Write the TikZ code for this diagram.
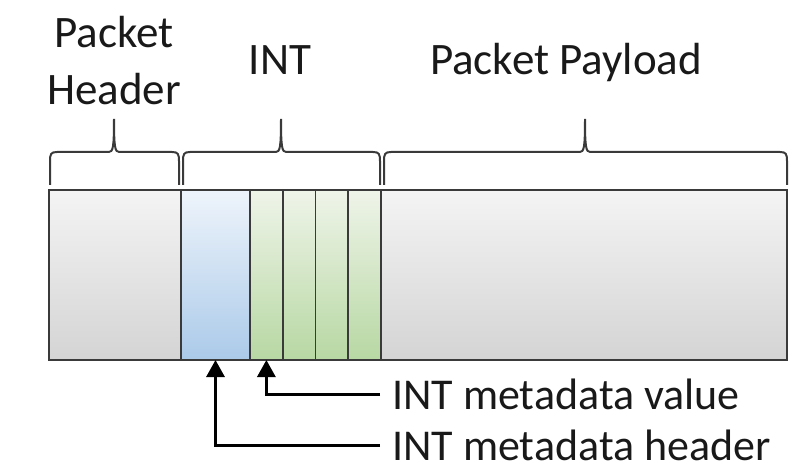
\documentclass[tikz,border=0pt]{standalone}
\usepackage{fontspec}
\setmainfont{Carlito}
\usepackage{tikz}
\usetikzlibrary{arrows.meta,positioning}
\definecolor{intline}{HTML}{3A3A3A}
\definecolor{pktgraytop}{HTML}{F4F4F4}
\definecolor{pktgraybot}{HTML}{D4D4D4}
\definecolor{intbluetop}{HTML}{EEF4FB}
\definecolor{intbluebot}{HTML}{ABCAE9}
\definecolor{intgreentop}{HTML}{EFF4E9}
\definecolor{intgreenbot}{HTML}{B7D8A3}

% curly brace over a field: left end, tip, right end
\newcommand{\fieldbrace}[3]{%
  \draw[bracepath] (#1,185) -- (#1,161) .. controls (#1,154) and (#1+1,152) .. (#1+7,152)
    -- (#2-5,152) .. controls (#2-1,152) and (#2,147) .. (#2,119)
    .. controls (#2,147) and (#2+1,152) .. (#2+5,152)
    -- (#3-7,152) .. controls (#3-1,152) and (#3,154) .. (#3,161) -- (#3,185);}

\begin{document}
\begin{tikzpicture}[
    x=1pt, y=-1pt,
    every node/.style={font=\fontsize{45}{57}\selectfont, text=black!90, inner ysep=2pt},
    field/.style={draw=intline, line width=1.6pt, minimum height=170pt, outer sep=0pt, inner sep=0pt, anchor=north west},
    grayfield/.style={field, top color=pktgraytop, bottom color=pktgraybot},
    bluefield/.style={field, top color=intbluetop, bottom color=intbluebot},
    greenfield/.style={field, top color=intgreentop, bottom color=intgreenbot, minimum width=32.75pt},
    bracepath/.style={draw=intline, line width=2pt},
    pointer/.style={-{Triangle[length=17pt, width=18pt]}, line width=3pt, black},
    tag/.style={anchor=west, inner xsep=0pt, font=\fontsize{44}{53}\selectfont}
]
    \useasboundingbox (0,0) rectangle (790,470);

    \node[grayfield, minimum width=132pt] (hdr) at (49,190) {};
    \node[bluefield, minimum width=69pt, right=0pt of hdr] (meta) {};
    \node[greenfield, right=0pt of meta] (v1) {};
    \node[greenfield, right=0pt of v1] (v2) {};
    \node[greenfield, right=0pt of v2] (v3) {};
    \node[greenfield, right=0pt of v3] (v4) {};
    \node[grayfield, minimum width=406pt, right=0pt of v4] (payload) {};

    \fieldbrace{50}{114}{179}
    \fieldbrace{183}{281}{380}
    \fieldbrace{384}{585}{787}

    \node[align=center] (hdrlbl) at (114,61) {Packet\\Header};
    \node[anchor=base] (intlbl) at (280,75) {INT};
    \node[anchor=base] (payloadlbl) at (566,75) {Packet Payload};

    \node[tag] (vallbl) at (392,394) {INT metadata value};
    \node[tag] (metalbl) at (392,445) {INT metadata header};

    \draw[pointer] ([xshift=-12pt]vallbl.west) -| (v1.south);
    \draw[pointer] ([xshift=-12pt]metalbl.west) -| (meta.south);
\end{tikzpicture}
\end{document}
